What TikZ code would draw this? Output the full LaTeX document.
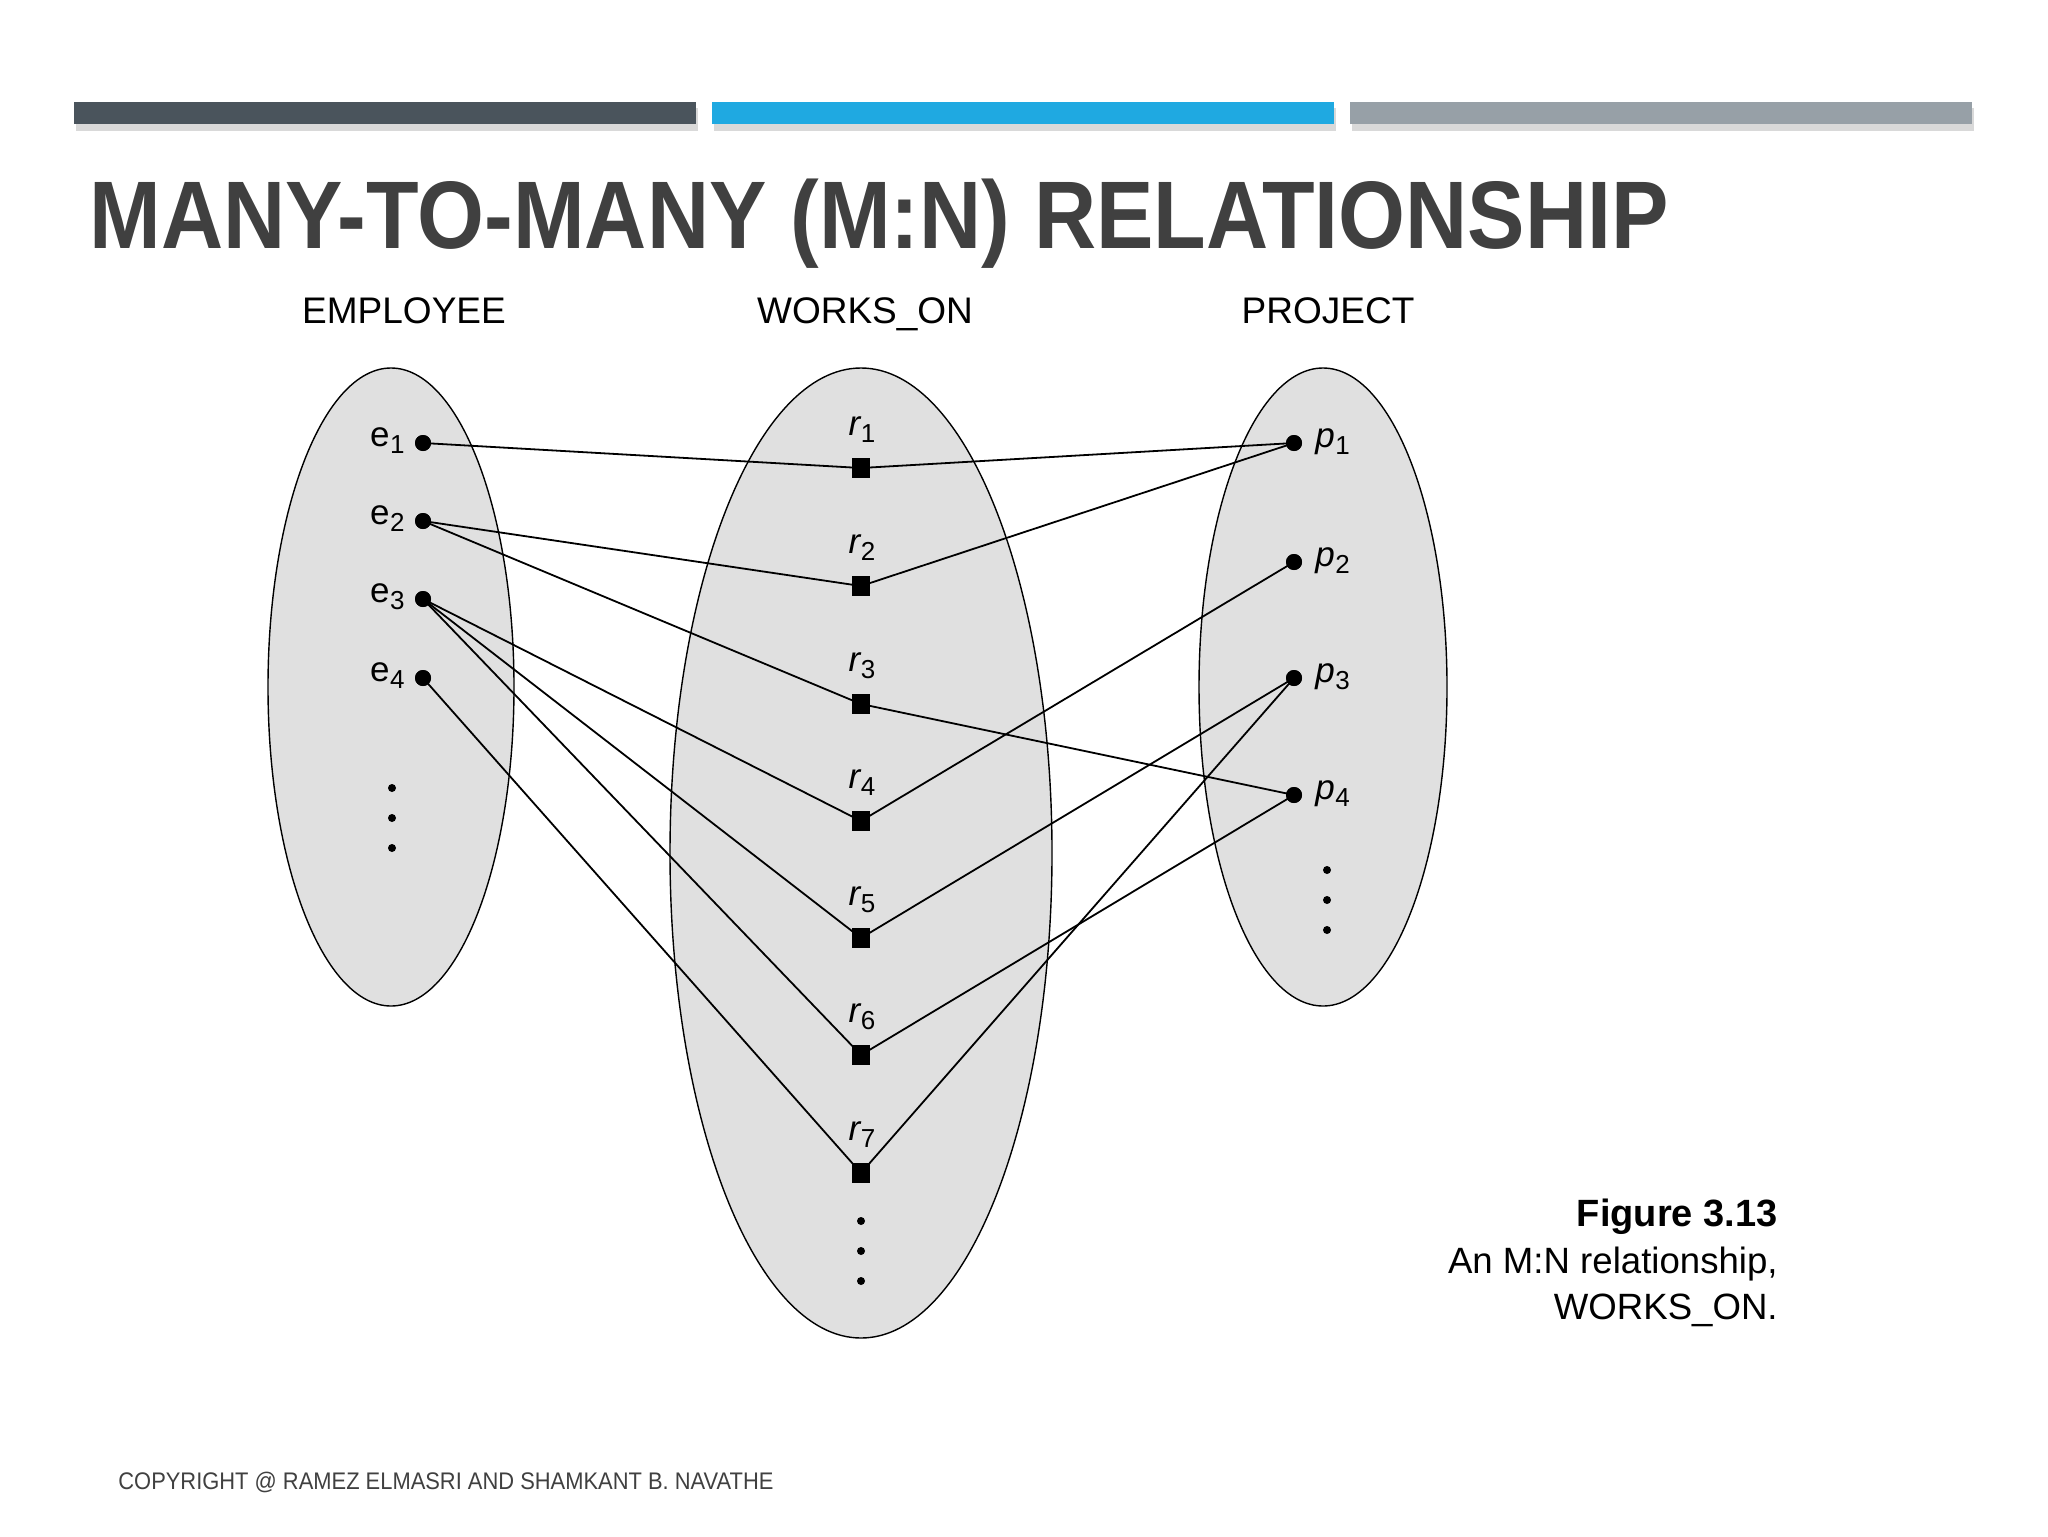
\documentclass[tikz,border=0pt]{standalone}
\usepackage{fontspec}
\setmainfont{Liberation Sans}
\usetikzlibrary{calc,shapes.geometric}
\definecolor{bardark}{HTML}{4A545C}
\definecolor{barblue}{HTML}{1FA9E1}
\definecolor{bargray}{HTML}{97A0A7}
\definecolor{titlegray}{HTML}{404040}
\definecolor{setfill}{HTML}{E0E0E0}
\newcommand{\sublab}[2]{#1\kern0.3pt\raisebox{-3.5pt}{\fontsize{13}{15}\selectfont\upshape #2}}
\begin{document}
\begin{tikzpicture}[x=0.5pt,y=-0.5pt,
  dotnode/.style={circle,fill=black,inner sep=0pt,minimum size=8pt},
  relbox/.style={rectangle,fill=black,inner sep=0pt,minimum width=9pt,minimum height=10pt},
  smalldot/.style={circle,fill=black,inner sep=0pt,minimum size=4pt},
  conn/.style={line width=0.9pt},
  setell/.style={ellipse,draw=black,fill=setfill,line width=0.7pt,inner sep=0pt},
  lab/.style={inner sep=0pt,font=\fontsize{17.5}{20}\selectfont},
  head/.style={inner sep=0pt,anchor=base,font=\fontsize{18.5}{22}\selectfont},
  bar/.style={inner sep=0pt,minimum height=11pt,anchor=north west},
  barshadow/.style={fill=black!15,draw=none}]
\useasboundingbox (0,0) rectangle (2048,1536);
% top bars
\fill[barshadow] (76,108) rectangle (698,131);
\fill[barshadow] (714,108) rectangle (1336,131);
\fill[barshadow] (1352,108) rectangle (1974,131);
\node[bar,fill=bardark,minimum width=311pt] (bar1) at (74,102) {};
\node[bar,fill=barblue,minimum width=311pt] (bar2) at (712,102) {};
\node[bar,fill=bargray,minimum width=311pt] (bar3) at (1350,102) {};
% title
\node[inner sep=0pt,anchor=base west,text=titlegray] (title) at (89,248)
  {\resizebox{789.5pt}{\height}{\fontsize{48}{56}\selectfont\bfseries MANY-TO-MANY (M:N) RELATIONSHIP}};
% headers
\node[head] (hemp) at (404,323) {EMPLOYEE};
\node[head] (hrel) at (865,323) {WORKS\_ON};
\node[head] (hproj) at (1328,323) {PROJECT};
% sets
\node[setell,minimum width=123pt,minimum height=319pt] (empset) at (391,687) {};
\node[setell,minimum width=191pt,minimum height=485pt] (relset) at (861,853) {};
\node[setell,minimum width=124pt,minimum height=319pt] (projset) at (1323,687) {};
% elements
\foreach \i/\y in {1/443,2/521,3/599,4/678}{
  \node[dotnode] (e\i) at (423,\y) {};
  \node[lab,anchor=base east] (le\i) at (405,\y+3) {\sublab{e}{\i}};
}
\foreach \i/\y in {1/468,2/586,3/704,4/821,5/938,6/1055,7/1173}{
  \node[relbox] (r\i) at (861,\y) {};
  \node[lab,anchor=base] (lr\i) at (862,\y-33) {\sublab{{\itshape r}}{\i}};
}
\foreach \i/\y in {1/443,2/562,3/678,4/795}{
  \node[dotnode] (p\i) at (1294,\y) {};
  \node[lab,anchor=base west] (lp\i) at (1315,\y+4) {\sublab{{\itshape p}}{\i}};
}
% ellipsis dots
\foreach \i/\y in {1/788,2/818,3/848}{\node[smalldot] (ed\i) at (392,\y) {};}
\foreach \i/\y in {1/1221,2/1251,3/1281}{\node[smalldot] (rd\i) at (861,\y) {};}
\foreach \i/\y in {1/870,2/900,3/930}{\node[smalldot] (pd\i) at (1327,\y) {};}
% connectors
\draw[conn] (e1.center) -- (r1.center) -- (p1.center);
\draw[conn] (e2.center) -- (r2.center) -- (p1.center);
\draw[conn] (e2.center) -- (r3.center) -- (p4.center);
\draw[conn] (e3.center) -- (r4.center) -- (p2.center);
\draw[conn] (e3.center) -- (r5.center) -- (p3.center);
\draw[conn] (e3.center) -- (r6.center) -- (p4.center);
\draw[conn] (e4.center) -- (r7.center) -- (p3.center);
% redraw markers on top
\foreach \i/\y in {1/443,2/521,3/599,4/678}{\fill (423,\y) circle (4pt);}
\foreach \i/\y in {1/443,2/562,3/678,4/795}{\fill (1294,\y) circle (4pt);}
\foreach \i/\y in {1/468,2/586,3/704,4/821,5/938,6/1055,7/1173}{\fill (852,\y-10) rectangle (870,\y+10);}
% caption
\node[inner sep=0pt,anchor=base east,font=\fontsize{19}{23}\selectfont\bfseries] (cap1) at (1778,1226) {Figure 3.13};
\node[inner sep=0pt,anchor=base east,font=\fontsize{18.3}{22}\selectfont] (cap2) at (1778,1273) {An M:N relationship,};
\node[inner sep=0pt,anchor=base east,font=\fontsize{18.3}{22}\selectfont] (cap3) at (1778,1319) {WORKS\_ON.};
% copyright
\node[inner sep=0pt,anchor=base west,text=titlegray] (copy) at (118,1489)
  {\resizebox{327.5pt}{\height}{\fontsize{12}{14}\selectfont COPYRIGHT @ RAMEZ ELMASRI AND SHAMKANT B. NAVATHE}};
\end{tikzpicture}
\end{document}
